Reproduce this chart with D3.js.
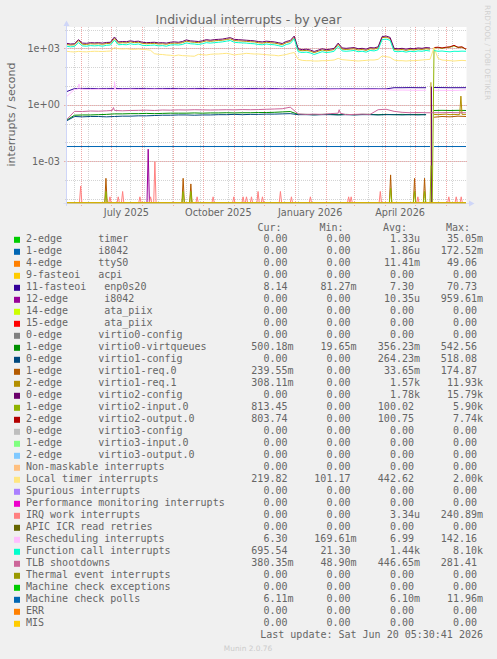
<!DOCTYPE html>
<html>
<head>
<meta charset="utf-8">
<script src="https://cdn.jsdelivr.net/npm/d3@7"></script>
<style>
body{margin:0;background:#f0f0f0;}
svg text{font-family:"DejaVu Sans",sans-serif;fill:#666;}
svg text.mono{font-family:"DejaVu Sans Mono",monospace;white-space:pre;}
</style>
</head>
<body>
<svg id="chart" width="497" height="659"></svg>
<script>
// time window of the year graph, day 0 = START
var DAY = 864e5;
var START = Date.UTC(2025, 4, 17), END = Date.UTC(2026, 5, 21);
var REBOOT = 366;               // lines break here (host restarted)
var FIRST_WEEK_LINE = Date.UTC(2025, 4, 25);

// legend
var names = ["2-edge      timer","1-edge      i8042","4-edge      ttyS0","9-fasteoi   acpi",
  "11-fasteoi   enp0s20","12-edge      i8042","14-edge      ata_piix","15-edge      ata_piix",
  "0-edge      virtio0-config","1-edge      virtio0-virtqueues","0-edge      virtio1-config",
  "1-edge      virtio1-req.0","2-edge      virtio1-req.1","0-edge      virtio2-config",
  "1-edge      virtio2-input.0","2-edge      virtio2-output.0","0-edge      virtio3-config",
  "1-edge      virtio3-input.0","2-edge      virtio3-output.0","Non-maskable interrupts",
  "Local timer interrupts","Spurious interrupts","Performance monitoring interrupts",
  "IRQ work interrupts","APIC ICR read retries","Rescheduling interrupts",
  "Function call interrupts","TLB shootdowns","Thermal event interrupts",
  "Machine check exceptions","Machine check polls","ERR","MIS"];
var colors = ["#00CC00","#0066B3","#FF8000","#FFCC00","#330099","#990099","#CCFF00","#FF0000",
  "#808080","#008F00","#00487D","#B35A00","#B38F00","#6B006B","#8FB300","#B30000","#BEBEBE",
  "#80FF80","#80C9FF","#FFC080","#FFE680","#AA80FF","#EE00CC","#FF8080","#666600","#FFBFFF",
  "#00FFCC","#CC6699","#999900","#00CC00","#0066B3","#FF8000","#FFCC00"];
var curVals = ["0.00","0.00","0.00","0.00","8.14","0.00","0.00","0.00","0.00","500.18m","0.00",
  "239.55m","308.11m","0.00","813.45","803.74","0.00","0.00","0.00","0.00","219.82","0.00","0.00",
  "0.00","0.00","6.30","695.54","380.35m","0.00","0.00","6.11m","0.00","0.00"];
var minVals = ["0.00","0.00","0.00","0.00","81.27m","0.00","0.00","0.00","0.00","19.65m","0.00",
  "0.00","0.00","0.00","0.00","0.00","0.00","0.00","0.00","0.00","101.17","0.00","0.00","0.00",
  "0.00","169.61m","21.30","48.90m","0.00","0.00","0.00","0.00","0.00"];
var avgVals = ["1.33u","1.86u","11.41m","0.00","7.30","10.35u","0.00","0.00","0.00","356.23m",
  "264.23m","33.65m","1.57k","1.78k","100.02","100.75","0.00","0.00","0.00","0.00","442.62",
  "0.00","0.00","3.34u","0.00","6.99","1.44k","446.65m","0.00","0.00","6.10m","0.00","0.00"];
var maxVals = ["35.05m","172.52m","49.06","0.00","70.73","959.61m","0.00","0.00","0.00","542.56",
  "518.08","174.87","11.93k","15.79k","5.90k","7.74k","0.00","0.00","0.00","0.00","2.00k","0.00",
  "0.00","240.89m","0.00","142.16","8.10k","281.41","0.00","0.00","11.96m","0.00","0.00"];

// samples every 4 days
var virtio2ConfigOld = [1850,1700,1750,2900,1900,1850,2000,1950,2000,1900,
  2050,2100,4000,2200,2300,2250,2500,2300,2400,2100,
  2000,2050,2100,1950,2000,1900,2100,2200,2100,2300,
  2800,2500,2400,2300,2500,2900,2700,2900,3000,3100,
  3400,3700,3000,2900,2800,2700,2600,2500,2300,2200,
  2400,2300,2200,2000,1800,2300,2600,4500,950,850,
  900,820,680,800,950,850,900,1000,1900,1050,
  1000,1050,1100,950,1000,900,1100,1050,1200,4200,
  4500,3800,1000,950,1000,900,1000,950,1050,1000,
  1100,1050];
var virtio1Req1Old = [1600,1500,1550,2500,1650,1600,1750,1700,1750,1650,
  1800,1850,3300,1900,2000,1950,2200,2000,2100,1850,
  1750,1800,1850,1700,1750,1650,1850,1900,1850,2000,
  2400,2200,2100,2000,2200,2500,2350,2500,2600,2700,
  2950,3200,2600,2500,2450,2350,2250,2200,2000,1900,
  2100,2000,1900,1750,1550,2000,2250,3900,820,740,
  780,710,590,700,820,740,780,870,1650,910,
  870,910,950,820,870,780,950,910,1050,3700,
  3900,3300,870,820,870,780,870,820,910,870,
  950,900];
var virtio1Req1New = [0.31,0.30,0.31,0.32,0.30,0.31,0.30,0.31,0.31];
var virtio2InputNew = [1050,1100,1000,1100,1150,1350,1100,1150,880];
var virtio2OutputNew = [1100,1150,1050,1150,1200,1450,1150,1200,900];
var functionCall = [1300,1200,1250,2000,1350,1300,1400,1350,1400,1300,
  1450,1500,2700,1550,1600,1550,1750,1600,1700,1450,
  1400,1450,1500,1350,1400,1300,1500,1550,1500,1600,
  1950,1750,1700,1600,1750,2000,1900,2000,2100,2200,
  2400,2600,2100,2000,1950,1900,1800,1750,1600,1550,
  1700,1600,1550,1400,1250,1600,1800,3200,660,600,
  630,570,470,560,660,600,630,700,1300,730,
  700,730,770,660,700,630,770,730,840,2900,
  3100,2650,700,660,700,630,700,660,730,700,
  770,720,760,700,720,680,650,700,690,710,695];
var localTimer = [700,660,640,690,660,650,680,700,690,680,
  700,720,1100,950,920,950,900,880,920,870,
  850,800,520,480,470,442,430,400,442,410,
  400,390,380,480,460,442,480,500,500,520,
  542,500,442,480,500,542,520,500,500,480,
  460,440,430,400,430,470,540,600,260,230,
  221,221,212,212,221,221,230,240,294,250,
  240,230,221,212,221,230,240,240,260,392,
  361,333,240,221,221,212,221,221,230,240,
  250,260,1100,290,240,230,221,212,221,230,221];

// samples every 8 days
var enp0s20 = [5.0,7.3,7.4,7.4,7.3,7.4,7.4,7.3,7.4,7.4,
  7.4,7.3,7.4,7.4,7.4,7.3,7.4,7.4,7.3,7.4,
  7.4,7.4,7.3,7.4,7.4,7.4,7.3,7.3,7.2,7.0,
  7.0,7.0,7.1,7.0,7.0,7.1,7.0,7.0,7.1,7.0,
  7.0,8.1,8.1,8.2,8.1,8.1,8.3,8.2,8.1,8.1,8.14];
var resched = [2.7,6.6,6.7,6.6,6.8,6.7,6.6,6.7,6.8,6.6,
  6.7,6.8,6.7,6.6,6.7,6.8,6.7,6.6,6.8,6.7,
  6.6,6.8,6.7,6.6,6.7,6.8,6.6,6.9,6.7,6.4,
  6.5,6.6,6.5,6.4,6.5,6.6,6.5,6.5,6.6,6.5,
  6.4,6.0,6.1,6.0,5.9,6.0,5.8,5.9,5.8,5.9,6.3];
var tlb = [0.16,0.45,0.44,0.47,0.46,0.48,0.50,0.48,0.50,0.51,
  0.52,0.50,0.53,0.52,0.54,0.53,0.55,0.54,0.53,0.54,
  0.55,0.54,0.56,0.55,0.56,0.58,0.60,0.62,0.75,0.33,
  0.31,0.32,0.31,0.34,0.36,0.30,0.31,0.32,0.31,0.55,
  0.58,0.45,0.40,0.38,0.39,0.38,0.38,0.38,0.39,0.38,0.38];
var virtqueues = [0.15,0.28,0.29,0.29,0.30,0.31,0.33,0.33,0.34,0.34,
  0.35,0.34,0.35,0.36,0.36,0.36,0.37,0.36,0.37,0.37,
  0.38,0.37,0.38,0.38,0.39,0.39,0.40,0.42,0.44,0.31,
  0.31,0.30,0.31,0.31,0.30,0.31,0.30,0.31,0.31,0.30,
  0.31,0.30,0.31,0.30,0.31,0.30,0.50,0.51,0.50,0.51,0.50];
var virtio1ConfigOld = [0.14,0.24,0.23,0.24,0.24,0.23,0.24,0.25,0.25,0.26,
  0.26,0.27,0.28,0.28,0.29,0.29,0.28,0.29,0.29,0.30,
  0.30,0.31,0.30,0.31,0.31,0.32,0.32,0.33,0.34,0.30,
  0.30,0.29,0.30,0.30,0.29,0.30,0.29,0.30,0.30,0.29,
  0.30,0.30,0.29,0.30,0.29,0.30];
var virtio1Req0New = [0.22,0.24,0.23,0.25,0.24];
var mcePollsOld = [0.0061,0.0061];   // day 0 .. 364
var mcePollsNew = [0.0061,0.0061];   // day 368 .. 400
var zeroLine = [0, 0];

// short spikes [day, peak]
var irqWorkSpikes = [[14.2,4.9e-5],[43.5,1.3e-5],[51.8,1.3e-5],[56.2,2.5e-5],[73.5,1.3e-5],
  [84.2,1.3e-5],[88.5,9.5e-4],[130.8,1.3e-5],[146.8,1.3e-5],[167.5,1.3e-5],[176.8,1.3e-5],
  [180.2,1.3e-5],[185.2,1.3e-5],[191.8,2.5e-5],[196.2,1.3e-5],[214.2,2.5e-5],[225.2,1.3e-5],
  [244.2,1.3e-5],[282.5,1.3e-5],[285,1.3e-5],[314.2,2.5e-5],[351.8,1.3e-5],[382.8,1.3e-5],
  [390.2,1.3e-5],[395.2,1.3e-5]];
var req0Spikes = [[39.5,1.25e-4],[116.8,1.25e-4],[124.5,6.3e-5],[324.5,1.9e-4],[348.5,1.25e-4],[358.5,1.25e-4]];
var inputSpikes = [[39.5,2.5e-5],[116.8,2.5e-5],[124.5,2.5e-5],[324.5,3.7e-5],[348.5,2.5e-5],[358.5,2.5e-5],[365,6e-4]];
var i8042Spikes = [[81.8,4.4e-3]];
var reschedSpikes = [[12.5,12.8],[48,17]];
var tlbSpikes = [[47,0.72],[273,0.55]];
var req1Spikes = [[394.9,2.9]];
var req1Drop = [[364.9,15.7]];
var config2Drop = [[365.4,9.1]];

// ---------------------------------------------------------------------------
var series = colors.map(function(c){
  return {color:c, parts:[[0,400,zeroLine]], spikes:[], drops:[], breaks:[]};
});
series[4].parts = [[0,8,enp0s20]]; series[4].breaks = [REBOOT];
series[5].spikes = i8042Spikes;
series[9].parts = [[0,8,virtqueues]]; series[9].breaks = [REBOOT];
series[10].parts = [[0,8,virtio1ConfigOld],[368,32,zeroLine]]; series[10].breaks = [REBOOT];
series[11].parts = [[0,364,zeroLine],[368,8,virtio1Req0New]]; series[11].spikes = req0Spikes; series[11].breaks = [REBOOT];
series[12].parts = [[0,4,virtio1Req1Old],[368,4,virtio1Req1New]]; series[12].spikes = req1Spikes; series[12].drops = req1Drop; series[12].breaks = [REBOOT];
series[13].parts = [[0,4,virtio2ConfigOld],[368,32,zeroLine]]; series[13].drops = config2Drop; series[13].breaks = [REBOOT];
series[14].parts = [[0,364,zeroLine],[368,4,virtio2InputNew]]; series[14].spikes = inputSpikes; series[14].breaks = [REBOOT];
series[15].parts = [[0,364,zeroLine],[368,4,virtio2OutputNew]]; series[15].breaks = [REBOOT];
series[20].parts = [[0,4,localTimer]];
series[23].spikes = irqWorkSpikes;
series[25].parts = [[0,8,resched]]; series[25].spikes = reschedSpikes; series[25].breaks = [REBOOT];
series[26].parts = [[0,4,functionCall]]; series[26].breaks = [REBOOT];
series[27].parts = [[0,8,tlb]]; series[27].spikes = tlbSpikes;
series[30].parts = [[0,364,mcePollsOld],[368,32,mcePollsNew]]; series[30].breaks = [REBOOT];

function points(s){
  var pts = [];
  s.parts.forEach(function(p){
    p[2].forEach(function(v, i){ pts.push([p[0] + i * p[1], v]); });
  });
  var dense = pts.slice();
  s.spikes.forEach(function(sp){
    var near = d3.least(dense, function(q){ return Math.abs(q[0] - sp[0]); });
    pts.push([sp[0] - 1.2, near[1]], [sp[0], sp[1]], [sp[0] + 1.2, near[1]]);
  });
  s.drops.forEach(function(dp){
    pts.push([dp[0] - 0.3, null], [dp[0], dp[1]], [dp[0] + 0.3, 0], [dp[0] + 0.4, null]);
  });
  s.breaks.forEach(function(b){ pts.push([b, null]); });
  return pts.sort(function(a, b){ return a[0] - b[0]; });
}

var svg = d3.select("#chart");
var L = 66.5, R = 466.5, T = 27, B = 203;

var x = d3.scaleUtc().domain([START, END]).range([L, 466]);
var y = d3.scaleLog().domain([Math.pow(10, -5.214), Math.pow(10, 4.133)]).range([B, T]).clamp(true);
function px(d){ return x(START + d * DAY); }
function py(v){ return v > 0 ? y(v) : B; }

svg.append("rect").attr("x", 0).attr("y", 0).attr("width", 497).attr("height", 659).attr("fill", "#f0f0f0");
svg.append("rect").attr("x", L + 0.5).attr("y", T).attr("width", R - L - 0.5).attr("height", B - T).attr("fill", "#fff");

// grid
var minorY = d3.range(-5, 5).map(function(e){ return Math.pow(10, e); });
var majorY = [1e-3, 1, 1e3];
var minorX = d3.range(FIRST_WEEK_LINE, END, 14 * DAY);
var majorX = d3.utcMonth.range(START, END);
var grid = svg.append("g").attr("shape-rendering", "crispEdges");
function vline(sel, col, ext){
  sel.attr("x1", function(d){ return Math.round(x(d)) + 0.5; }).attr("x2", function(d){ return Math.round(x(d)) + 0.5; })
    .attr("y1", T).attr("y2", B + ext).attr("stroke", col).attr("stroke-dasharray", "1,1");
}
function hline(sel, col, ext){
  sel.attr("x1", L - ext).attr("x2", R)
    .attr("y1", function(d){ return Math.round(y(d)) + 0.5; }).attr("y2", function(d){ return Math.round(y(d)) + 0.5; })
    .attr("stroke", col).attr("stroke-dasharray", "1,1");
}
vline(grid.selectAll(".gx").data(minorX).enter().append("line"), "#d4d4d4", 2);
hline(grid.selectAll(".gy").data(minorY).enter().append("line"), "#d4d4d4", 2);
vline(grid.selectAll(".mx").data(majorX).enter().append("line"), "#f0a8a8", 3);
hline(grid.selectAll(".my").data(majorY).enter().append("line"), "#f0a8a8", 3);

// axis labels
function expLabel(v){
  var e = Math.round(Math.log10(v));
  return "1e" + (e < 0 ? "-" : "+") + d3.format("02d")(Math.abs(e));
}
svg.selectAll(".yl").data(majorY).enter().append("text")
  .attr("x", 60).attr("y", function(d){ return y(d) + 3.5; })
  .attr("text-anchor", "end").attr("font-size", "9.7px").text(expLabel);
var fmtMonth = d3.utcFormat("%B %Y");
svg.selectAll(".xl").data(d3.utcMonth.every(3).range(START, END)).enter().append("text")
  .attr("x", function(d){ return x(d3.utcDay.offset(d, 15)); }).attr("y", 215.5)
  .attr("text-anchor", "middle").attr("font-size", "9.7px").text(fmtMonth);

// data lines
var clip = svg.append("clipPath").attr("id", "plot");
clip.append("rect").attr("x", L).attr("y", T - 2).attr("width", R - L).attr("height", B - T + 3);
var line = d3.line()
  .defined(function(d){ return d[1] !== null; })
  .x(function(d){ return px(d[0]); })
  .y(function(d){ return py(d[1]); });
svg.append("g").attr("clip-path", "url(#plot)")
  .selectAll("path").data(series).enter().append("path")
  .attr("d", function(s){ return line(points(s)); })
  .attr("fill", "none").attr("stroke", function(s){ return s.color; })
  .attr("stroke-width", 1).attr("stroke-linejoin", "round");

// axes with arrows
var axisCol = "#CFD6F8";
svg.append("line").attr("x1", L).attr("x2", L).attr("y1", B + 3).attr("y2", 24).attr("stroke", axisCol);
svg.append("line").attr("x1", L - 3).attr("x2", 470).attr("y1", B + 0.5).attr("y2", B + 0.5).attr("stroke", axisCol).attr("stroke-opacity", 0.6);
svg.append("path").attr("d", "M" + (L - 3) + ",26L" + L + ",20.5L" + (L + 3) + ",26Z").attr("fill", axisCol);
svg.append("path").attr("d", "M469," + (B - 2.5) + "L474.5," + (B + 0.5) + "L469," + (B + 3.5) + "Z").attr("fill", axisCol);

// titles
svg.append("text").attr("x", 248.5).attr("y", 24).attr("text-anchor", "middle")
  .attr("font-size", "12.5px").text("Individual interrupts - by year");
svg.append("text").attr("transform", "translate(14.5,114.5) rotate(-90)").attr("text-anchor", "middle")
  .attr("font-size", "11px").text("interrupts / second");
svg.append("text").attr("transform", "translate(485,5) rotate(90)")
  .attr("font-size", "7.4px").style("fill", "#d0d0d0").text("RRDTOOL / TOBI OETIKER");

// legend
var ROW0 = 242.3, ROWH = 12;
var heads = [["Cur:", 281.5], ["Min:", 343.5], ["Avg:", 407], ["Max:", 470]];
svg.selectAll(".hd").data(heads).enter().append("text").attr("class", "mono")
  .attr("x", function(d){ return d[1]; }).attr("y", 230.6).attr("text-anchor", "end")
  .attr("font-size", "10px").text(function(d){ return d[0]; });
function pad(s){ return /[0-9]$/.test(s) ? s + " " : s; }
var cols = [[curVals, 293.5], [minVals, 356.5], [avgVals, 420], [maxVals, 483]];
var rows = svg.append("g").selectAll("g").data(names).enter().append("g")
  .attr("transform", function(d, i){ return "translate(0," + (ROW0 + i * ROWH) + ")"; });
rows.append("rect").attr("x", 14).attr("y", -5.5).attr("width", 6).attr("height", 6)
  .attr("fill", function(d, i){ return colors[i]; });
rows.append("text").attr("class", "mono").attr("xml:space", "preserve")
  .attr("x", 26).attr("font-size", "10px").text(function(d){ return d; });
cols.forEach(function(c){
  rows.append("text").attr("class", "mono").attr("xml:space", "preserve")
    .attr("x", c[1]).attr("text-anchor", "end").attr("font-size", "10px")
    .text(function(d, i){ return pad(c[0][i]); });
});
svg.append("text").attr("class", "mono").attr("x", 483).attr("y", 638).attr("text-anchor", "end")
  .attr("font-size", "10px").text("Last update: Sat Jun 20 05:30:41 2026");
svg.append("text").attr("x", 248).attr("y", 651).attr("text-anchor", "middle")
  .attr("font-size", "7.4px").style("fill", "#cccccc").text("Munin 2.0.76");
</script>
</body>
</html>
